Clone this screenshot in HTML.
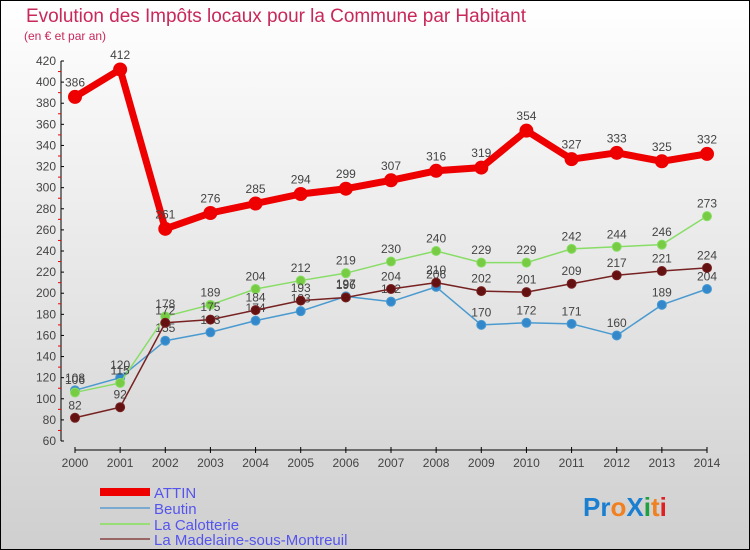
<!DOCTYPE html>
<html><head><meta charset="utf-8"><style>
body{margin:0}
svg{display:block;font-family:"Liberation Sans",sans-serif}
</style></head><body>
<svg width="750" height="550" viewBox="0 0 750 550">
<defs><linearGradient id="bg" x1="0" y1="0" x2="0" y2="1"><stop offset="0" stop-color="#ffffff"/><stop offset="1" stop-color="#cfcfcf"/></linearGradient></defs>
<rect x="0.5" y="0.5" width="749" height="549" fill="url(#bg)" stroke="#000"/>
<text x="26" y="22" font-size="19" fill="#c8285a" textLength="500">Evolution des Impôts locaux pour la Commune par Habitant</text>
<text x="24" y="40" font-size="12" fill="#c8285a">(en € et par an)</text>
<g id="axes"></g>
<g id="series"></g>
<g>
<rect x="100" y="488" width="50" height="8" fill="#e00"/>
<text x="154" y="498" font-size="15" fill="#5555ee">ATTIN</text>
<line x1="100" y1="508" x2="150" y2="508" stroke="#7aaad0" stroke-width="2"/>
<text x="154" y="514" font-size="15" fill="#5555ee">Beutin</text>
<line x1="100" y1="524" x2="150" y2="524" stroke="#99dd77" stroke-width="2"/>
<text x="154" y="530" font-size="15" fill="#5555ee">La Calotterie</text>
<line x1="100" y1="539" x2="150" y2="539" stroke="#996666" stroke-width="2"/>
<text x="154" y="545" font-size="15" fill="#5555ee">La Madelaine-sous-Montreuil</text>
</g>
<text x="583" y="516" font-size="26" font-weight="bold"><tspan fill="#1a7fd0">Pr</tspan><tspan fill="#f08020">o</tspan><tspan fill="#1a7fd0">X</tspan><tspan fill="#20a040">i</tspan><tspan fill="#f08020">t</tspan><tspan fill="#e02020">i</tspan></text>
</svg>
<script>
const years=["2000","2001","2002","2003","2004","2005","2006","2007","2008","2009","2010","2011","2012","2013","2014"];
const attin=[386,412,261,276,285,294,299,307,316,319,354,327,333,325,332];
const beutin=[108,120,155,163,174,183,197,192,206,170,172,171,160,189,204];
const calotterie=[106,115,178,189,204,212,219,230,240,229,229,242,244,246,273];
const madelaine=[82,92,172,175,184,193,196,204,210,202,201,209,217,221,224];
const yTicks=[60,80,100,120,140,160,180,200,220,240,260,280,300,320,340,360,380,400,420];
const NS="http://www.w3.org/2000/svg";
const x=i=>75+i*(707-75)/14;
const y=v=>441-(v-60)*380/360;
function mk(t,a,p){const e=document.createElementNS(NS,t);for(const k in a)e.setAttribute(k,a[k]);p.appendChild(e);return e;}
const ax=document.getElementById('axes');
const yl=mk('line',{x1:61,y1:y(60),x2:61,y2:y(420),stroke:'#000'},ax);


yTicks.forEach((v,k)=>{
 mk('line',{x1:61,y1:y(v),x2:64,y2:y(v),stroke:'#000'},ax);
 if(k<yTicks.length-1) mk('line',{x1:58,y1:y(v+10),x2:61,y2:y(v+10),stroke:'#e00'},ax);
 const t=mk('text',{x:56,y:y(v)+4,'font-size':12,fill:'#444','text-anchor':'end'},ax);t.textContent=v;
 
 
});
const xl=mk('line',{x1:75,y1:450,x2:707,y2:450,stroke:'#000'},ax);


years.forEach((yr,i)=>{
 mk('line',{x1:x(i),y1:447,x2:x(i),y2:453,stroke:'#000'},ax);
 const t=mk('text',{x:x(i),y:467,'font-size':12,fill:'#444','text-anchor':'middle'},ax);t.textContent=yr;
 
 
});
const sg=document.getElementById('series');
function series(data,color,fill,w,r,name){
 const g=mk('g',{},sg);
 
 
 mk('polyline',{points:data.map((v,i)=>x(i)+','+y(v)).join(' '),fill:'none',stroke:color,'stroke-width':w,'stroke-linejoin':'round'},g);
 data.forEach((v,i)=>{
  const c=mk('circle',{cx:x(i),cy:y(v),r:r,fill:fill,stroke:color,'stroke-width':1},g);
  
  
  const t=mk('text',{x:x(i),y:y(v)-r-4,'font-size':12,fill:'#444','text-anchor':'middle'},g);t.textContent=v;
  
  
 });
}
series(beutin,'#4a9ad0','#3388cc',1.5,4.5,'beutin');
series(calotterie,'#88dd66','#77cc44',1.5,4.5,'calotterie');
series(madelaine,'#772222','#661111',1.5,4.5,'madelaine');
series(attin,'#ee0000','#ee0000',7,6.5,'attin');
</script>
</body></html>
